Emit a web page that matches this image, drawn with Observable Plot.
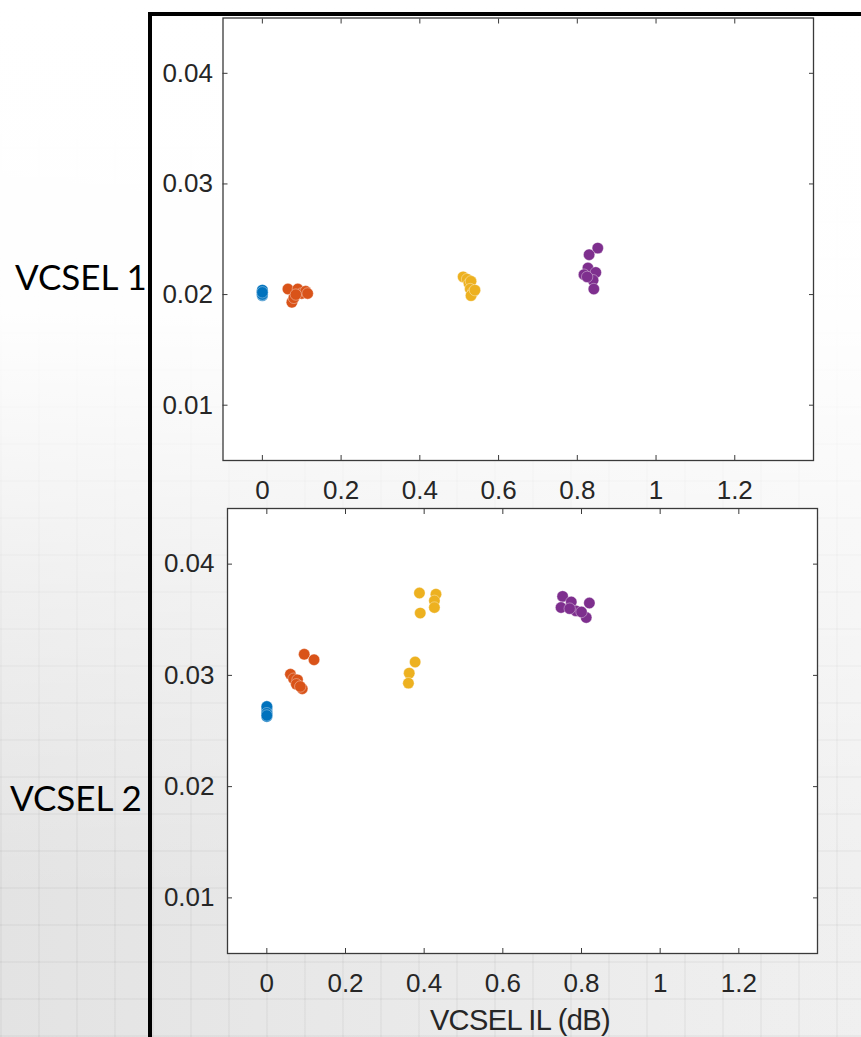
<!DOCTYPE html>
<html>
<head>
<meta charset="utf-8">
<script src="https://cdn.jsdelivr.net/npm/d3@7"></script>
<script src="https://cdn.jsdelivr.net/npm/@observablehq/plot@0.6"></script>
<style>
  html, body { margin: 0; padding: 0; }
  #page {
    position: relative; width: 861px; height: 1037px; overflow: hidden;
    background:
      linear-gradient(to bottom, rgba(255,255,255,1) 0%, rgba(255,255,255,0.97) 30%, rgba(255,255,255,0.5) 55%, rgba(255,255,255,0.05) 85%),
      repeating-linear-gradient(90deg, rgba(0,0,0,0.035) 0 2px, rgba(0,0,0,0) 2px 38px),
      repeating-linear-gradient(0deg, rgba(0,0,0,0.035) 0 2px, rgba(0,0,0,0) 2px 37px),
      linear-gradient(to right, #e2e2e2, #eaeaea 60%, #efefef);
  }
  .plot { position: absolute; left: 0; top: 0; }
  .rowlabel { position: absolute; font-family: Lato, "Open Sans", sans-serif; font-size: 35px; color: #000; line-height: 1; }
  .bar { position: absolute; background: #000; }
  #xlabel { position: absolute; font-family: "Liberation Sans", Arial, sans-serif; font-size: 29px; color: #262626; letter-spacing: -0.6px; line-height: 1; }
</style>
</head>
<body>
<div id="page">
  <div class="bar" style="left:148px; top:12px; width:4px; height:1025px;"></div>
  <div class="bar" style="left:148px; top:12px; width:713px; height:4px;"></div>
  <div id="top" class="plot"></div>
  <div id="bottom" class="plot"></div>
  <div class="rowlabel" style="left:15px; top:259px;">VCSEL 1</div>
  <div class="rowlabel" style="left:10px; top:780px;">VCSEL 2</div>
  <div id="xlabel" style="left:0; width:1040px; text-align:center; top:1006px;">VCSEL IL (dB)</div>
</div>
<script>
// ---- data ----
const groupNames = ["Series 1", "Series 2", "Series 3", "Series 4"];
const groupColors = ["#0072BD", "#D95319", "#EDB120", "#7E2F8E"];
const xTicks = [0, 0.2, 0.4, 0.6, 0.8, 1, 1.2];
const yTicks = [0.01, 0.02, 0.03, 0.04];
const xLabel = "VCSEL IL (dB)";

// VCSEL 1
const vcsel1_s1_x = [0, 0, 0, 0, 0, 0, 0, 0];
const vcsel1_s1_y = [0.0199, 0.0200, 0.0201, 0.0202, 0.0203, 0.0204, 0.0200, 0.0202];
const vcsel1_s2_x = [0.065, 0.075, 0.080, 0.090, 0.100, 0.110, 0.115, 0.085];
const vcsel1_s2_y = [0.0205, 0.0193, 0.0197, 0.0205, 0.0201, 0.0203, 0.0201, 0.0200];
const vcsel1_s3_x = [0.510, 0.520, 0.525, 0.530, 0.528, 0.535, 0.530, 0.540];
const vcsel1_s3_y = [0.0216, 0.0214, 0.0210, 0.0212, 0.0205, 0.0202, 0.0199, 0.0204];
const vcsel1_s4_x = [0.852, 0.830, 0.827, 0.817, 0.847, 0.840, 0.842, 0.825];
const vcsel1_s4_y = [0.0242, 0.0236, 0.0224, 0.0218, 0.0220, 0.0213, 0.0205, 0.0216];

// VCSEL 2
const vcsel2_s1_x = [0, 0, 0, 0, 0, 0, 0, 0];
const vcsel2_s1_y = [0.0263, 0.0265, 0.0267, 0.0269, 0.0271, 0.0272, 0.0266, 0.0264];
const vcsel2_s2_x = [0.060, 0.068, 0.078, 0.075, 0.090, 0.095, 0.120, 0.085];
const vcsel2_s2_y = [0.0301, 0.0297, 0.0296, 0.0292, 0.0288, 0.0319, 0.0314, 0.0290];
const vcsel2_s3_x = [0.388, 0.430, 0.426, 0.426, 0.390, 0.377, 0.362, 0.360];
const vcsel2_s3_y = [0.0374, 0.0373, 0.0367, 0.0361, 0.0356, 0.0312, 0.0302, 0.0293];
const vcsel2_s4_x = [0.752, 0.774, 0.748, 0.786, 0.820, 0.812, 0.770, 0.800];
const vcsel2_s4_y = [0.0371, 0.0366, 0.0361, 0.0358, 0.0365, 0.0352, 0.0360, 0.0357];

function rows(xsList, ysList) {
  const out = [];
  xsList.forEach((xs, g) => xs.forEach((x, i) => out.push({group: groupNames[g], x, y: ysList[g][i]})));
  return out;
}
const data1 = rows([vcsel1_s1_x, vcsel1_s2_x, vcsel1_s3_x, vcsel1_s4_x],
                   [vcsel1_s1_y, vcsel1_s2_y, vcsel1_s3_y, vcsel1_s4_y]);
const data2 = rows([vcsel2_s1_x, vcsel2_s2_x, vcsel2_s3_x, vcsel2_s4_x],
                   [vcsel2_s1_y, vcsel2_s2_y, vcsel2_s3_y, vcsel2_s4_y]);

function makePlot(data, m, yPad) {
  return Plot.plot({
    width: 861, height: m.height,
    marginTop: m.top, marginLeft: m.left, marginRight: m.right, marginBottom: m.bottom,
    x: {domain: [-0.1, 1.4], label: null},
    y: {domain: [0.005, 0.045], label: null},
    color: {type: "ordinal", domain: groupNames, range: groupColors},
    style: {background: "transparent", fontFamily: "'Liberation Sans', Arial, sans-serif", fontSize: "26px", color: "#262626", overflow: "visible"},
    marks: [
      Plot.frame({fill: "white", stroke: "#3a3a3a", strokeWidth: 1.3}),
      Plot.axisY(yTicks, {anchor: "left", tickSize: 0, tickPadding: yPad, tickFormat: d3.format(".2f")}),
      Plot.axisY(yTicks, {anchor: "left", tickSize: 5, dx: 5, tickFormat: () => "", stroke: "#3a3a3a"}),
      Plot.axisY(yTicks, {anchor: "right", tickSize: 5, dx: -5, tickFormat: () => "", stroke: "#3a3a3a"}),
      Plot.axisX(xTicks, {anchor: "bottom", tickSize: 0, tickPadding: 20, tickFormat: d => String(d)}),
      Plot.axisX(xTicks, {anchor: "bottom", tickSize: 5, dy: -5, tickFormat: () => "", stroke: "#3a3a3a"}),
      Plot.axisX(xTicks, {anchor: "top", tickSize: 5, dy: 5, tickFormat: () => "", stroke: "#3a3a3a"}),
      Plot.dot(data, {x: "x", y: "y", fill: "group", r: 5.7, stroke: "white", strokeOpacity: 0.45, strokeWidth: 0.8})
    ]
  });
}

document.getElementById("top").append(
  makePlot(data1, {height: 505, top: 17.5, left: 222.5, right: 48, bottom: 45}, 10));
document.getElementById("bottom").append(
  makePlot(data2, {height: 1037, top: 508, left: 227, right: 44, bottom: 84}, 13));
</script>
</body>
</html>
